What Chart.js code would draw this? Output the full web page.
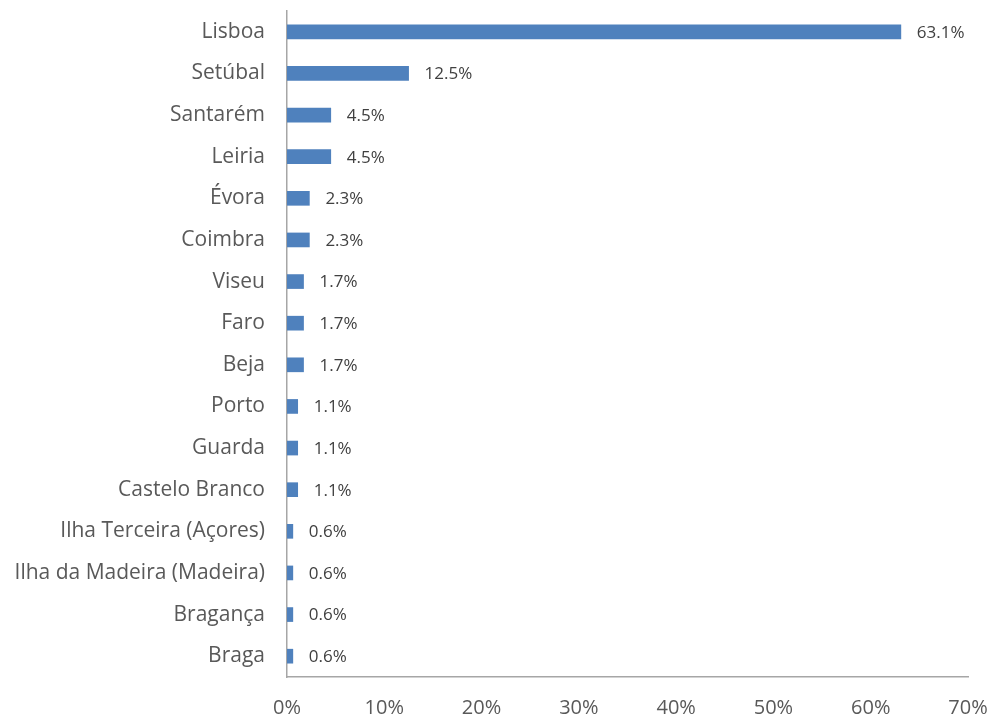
<!DOCTYPE html>
<html>
<head>
<meta charset="utf-8">
<script src="https://cdn.jsdelivr.net/npm/chart.js@4"></script>
<style>
  html, body { margin: 0; padding: 0; background: #fff; }
  #wrap { width: 993px; height: 719px; }
</style>
</head>
<body>
<div id="wrap"><canvas id="chart" width="993" height="719"></canvas></div>
<script>
// ===== DATA =====
const districts = [
  'Lisboa', 'Setúbal', 'Santarém', 'Leiria', 'Évora', 'Coimbra', 'Viseu', 'Faro',
  'Beja', 'Porto', 'Guarda', 'Castelo Branco', 'Ilha Terceira (Açores)',
  'Ilha da Madeira (Madeira)', 'Bragança', 'Braga'
];
const shares = [63.1, 12.5, 4.5, 4.5, 2.3, 2.3, 1.7, 1.7, 1.7, 1.1, 1.1, 1.1, 0.6, 0.6, 0.6, 0.6];
const xTicks = [0, 10, 20, 30, 40, 50, 60, 70];

const FONT = '"Open Sans", sans-serif';
const TEXT = '#595959';

// value labels at the end of each bar
const barLabels = {
  id: 'barLabels',
  afterDatasetsDraw(chart) {
    const ctx = chart.ctx;
    const meta = chart.getDatasetMeta(0);
    ctx.save();
    ctx.font = '17px ' + FONT;
    ctx.fillStyle = '#404040';
    ctx.textAlign = 'left';
    ctx.textBaseline = 'middle';
    meta.data.forEach((bar, i) => {
      ctx.fillText(shares[i].toFixed(1) + '%', bar.x + 16, bar.y + 1);
    });
    ctx.restore();
  }
};

new Chart(document.getElementById('chart').getContext('2d'), {
  type: 'bar',
  data: {
    labels: districts,
    datasets: [{ data: shares, backgroundColor: '#4F81BD', barThickness: 14 }]
  },
  options: {
    indexAxis: 'y',
    responsive: false,
    animation: false,
    layout: { padding: { top: 11, right: 25, left: 0, bottom: 0 } },
    plugins: { legend: { display: false }, tooltip: { enabled: false } },
    scales: {
      x: {
        min: 0, max: 70,
        afterBuildTicks: axis => { axis.ticks = xTicks.map(v => ({ value: v })); },
        afterFit: axis => { axis.height = 42; axis.paddingLeft = 0; axis.paddingRight = 0; },
        grid: { display: false, drawTicks: false },
        border: { color: '#a6a6a6', width: 1.5 },
        ticks: {
          padding: 19,
          color: TEXT,
          font: { family: FONT, size: 20 },
          callback: v => v + '%'
        }
      },
      y: {
        afterFit: axis => { axis.width = 287; axis.paddingTop = 0; axis.paddingBottom = 0; },
        grid: { display: false, drawTicks: false },
        border: { color: '#a6a6a6', width: 1.5 },
        ticks: {
          padding: 22,
          color: TEXT,
          font: { family: FONT, size: 21 }
        }
      }
    }
  },
  plugins: [barLabels]
});
</script>
</body>
</html>
